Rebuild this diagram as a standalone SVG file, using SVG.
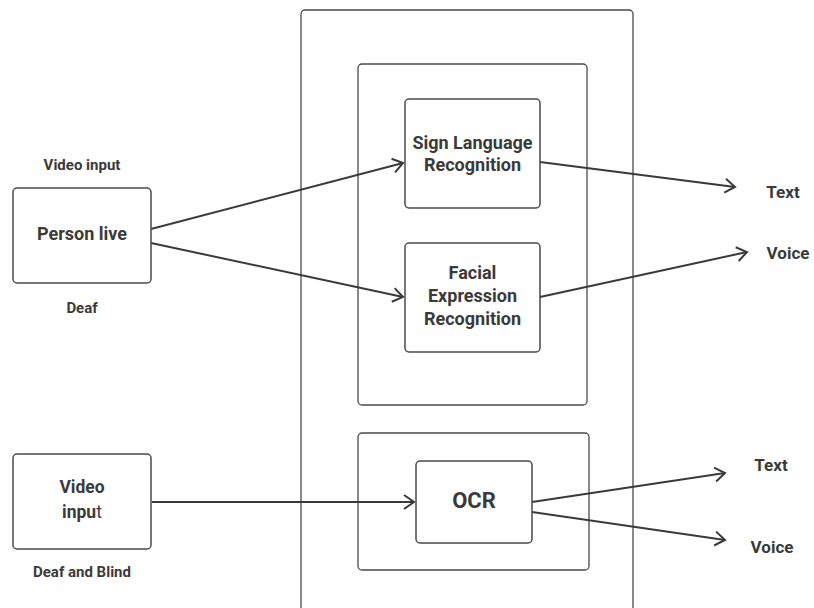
<svg xmlns="http://www.w3.org/2000/svg" width="814" height="608" viewBox="0 0 814 608">
<defs>
<marker id="arr" markerUnits="userSpaceOnUse" markerWidth="14" markerHeight="16" refX="11" refY="7.5" orient="auto" overflow="visible">
<path d="M1,0.5 L11,7.5 L1,14.5" fill="none" stroke="#3a3a3a" stroke-width="2" stroke-linejoin="miter"/>
</marker>
<style>
.box{fill:#fff;stroke:#4a4a4a;stroke-width:1.5}
.ct{fill:none;stroke:#4a4a4a;stroke-width:1.3}
.t{font-family:Roboto,"Liberation Sans",Arial,sans-serif;font-weight:bold;fill:#3a3a3a;text-anchor:middle;dominant-baseline:central}
.ln{fill:none;stroke:#3a3a3a;stroke-width:2;marker-end:url(#arr)}
</style>
</defs>
<rect width="814" height="608" fill="#fff"/>
<g id="containers">
<rect class="ct" x="301" y="10" width="332" height="620" rx="4"/>
<rect class="ct" x="358" y="64" width="229" height="341" rx="4"/>
<rect class="ct" x="358" y="433" width="231" height="137" rx="4"/>
</g>
<g id="connectors">
<line class="ln" x1="151" y1="229" x2="403" y2="163"/>
<line class="ln" x1="151" y1="243" x2="403" y2="297"/>
<line class="ln" x1="540" y1="162" x2="735" y2="187"/>
<line class="ln" x1="540" y1="297" x2="747" y2="252"/>
<line class="ln" x1="152" y1="502" x2="414" y2="502"/>
<line class="ln" x1="532" y1="502" x2="725" y2="473"/>
<line class="ln" x1="532" y1="512" x2="725" y2="540"/>
</g>
<g id="person-live">
<rect class="box" x="13" y="188" width="138" height="95" rx="4"/>
<text class="t" x="82" y="233" font-size="18">Person live</text>
</g>
<g id="label-video-input">
<text class="t" x="82" y="165" font-size="15">Video input</text>
</g>
<g id="label-deaf">
<text class="t" x="82" y="308" font-size="15">Deaf</text>
</g>
<g id="sign-language">
<rect class="box" x="405" y="99" width="135" height="109" rx="4"/>
<text class="t" x="472.5" y="142" font-size="18">Sign Language</text>
<text class="t" x="472.5" y="164" font-size="18">Recognition</text>
</g>
<g id="facial-expression">
<rect class="box" x="405" y="243" width="135" height="109" rx="4"/>
<text class="t" x="472.5" y="272" font-size="18">Facial</text>
<text class="t" x="472.5" y="295" font-size="18">Expression</text>
<text class="t" x="472.5" y="318" font-size="18">Recognition</text>
</g>
<g id="out-text-1">
<text class="t" x="783" y="192" font-size="17">Text</text>
</g>
<g id="out-voice-1">
<text class="t" x="788" y="253" font-size="17">Voice</text>
</g>
<g id="video-input">
<rect class="box" x="13" y="454" width="138" height="95" rx="4"/>
<text class="t" x="82" y="487" font-size="17.5">Video</text>
<text class="t" x="82" y="512" font-size="17.5">inpu<tspan font-weight="normal">t</tspan></text>
</g>
<g id="label-deaf-blind">
<text class="t" x="82" y="572" font-size="15">Deaf and Blind</text>
</g>
<g id="ocr">
<rect class="box" x="416" y="461" width="116" height="82" rx="4"/>
<text class="t" x="474" y="500" font-size="22">OCR</text>
</g>
<g id="out-text-2">
<text class="t" x="771" y="465" font-size="17">Text</text>
</g>
<g id="out-voice-2">
<text class="t" x="772" y="547" font-size="17">Voice</text>
</g>
</svg>
